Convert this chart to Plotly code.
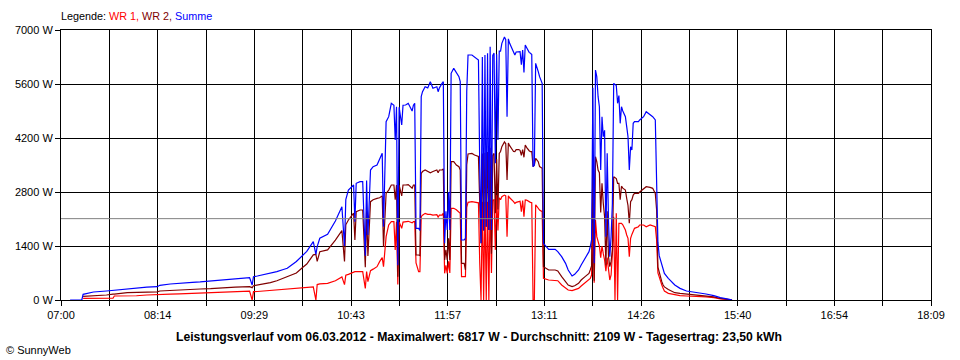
import plotly.graph_objects as go

# ---- data (times of day, watts) ----
times = [
    "07:07","07:16","07:17","07:25","07:35","07:40","07:41","07:51","07:58","08:06",
    "08:14","08:16","08:24","08:31","08:41","08:47","08:55","09:05","09:14","09:25",
    "09:27","09:28","09:31","09:35","09:41","09:46","09:51","09:54","10:01","10:06",
    "10:09","10:14","10:16","10:17","10:19","10:25","10:31","10:36","10:38","10:39",
    "10:41","10:45","10:46","10:47","10:50","10:52","10:54","10:55","10:56","10:58",
    "11:00","11:03","11:05","11:07","11:08","11:10","11:12","11:14","11:16","11:17",
    "11:18","11:19","11:20","11:22","11:23","11:25","11:27","11:30","11:31","11:32",
    "11:33","11:35","11:36","11:37","11:38","11:40","11:42","11:44","11:46","11:49",
    "11:50","11:51","11:53","11:54","11:55","11:56","11:57","11:58","11:59","12:00",
    "12:02","12:04","12:06","12:07","12:08","12:10","12:11","12:12","12:13","12:16",
    "12:18","12:20","12:21","12:22","12:23","12:24","12:25","12:26","12:27","12:28",
    "12:29","12:30","12:31","12:32","12:33","12:34","12:35","12:36","12:37","12:38",
    "12:39","12:41","12:42","12:43","12:44","12:45","12:47","12:48","12:49","12:50",
    "12:52","12:53","12:54","12:55","12:56","12:57","12:58","12:59","13:00","13:01",
    "13:02","13:03","13:04","13:05","13:06","13:07","13:08","13:10","13:11","13:15",
    "13:20","13:22","13:25","13:28","13:30","13:33","13:35","13:38","13:40","13:43",
    "13:46","13:47","13:48","13:49","13:50","13:51","13:52","13:53","13:54","13:55",
    "13:56","13:57","13:58","13:59","14:00","14:01","14:02","14:03","14:04","14:05",
    "14:06","14:07","14:08","14:09","14:10","14:11","14:12","14:14","14:15","14:16",
    "14:17","14:18","14:19","14:20","14:21","14:24","14:25","14:28","14:30","14:33",
    "14:35","14:37","14:38","14:39","14:40","14:41","14:42","14:43","14:44","14:47",
    "14:50","14:52","14:56","15:01","15:06","15:11","15:16","15:22","15:27","15:34",
    "15:36",
]

wr1 = [
    None,None,40,45,45,45,104,104,110,130,
    147,147,150,160,175,185,190,200,225,230,
    0,216,220,230,250,275,285,290,300,320,
    330,340,0,400,420,432,500,600,400,640,
    665,735,735,735,735,735,300,735,475,760,
    800,864,994,1100,864,1642,1945,2030,2030,1300,
    2030,400,2020,1858,2020,2030,2040,2000,2030,2030,
    960,735,735,2160,2200,2247,2220,2220,2200,2210,
    2150,2200,2200,2250,691,900,691,1000,700,2377,
    2377,2340,2290,2250,605,605,605,2400,2532,2550,
    2530,2530,2520,960,0,2550,0,2550,0,2550,
    0,2600,700,2590,2600,1300,2722,1800,2650,2600,
    2679,2720,2700,1642,2700,2650,2593,2550,2506,2530,
    2550,2560,2290,2580,2160,2593,2590,2560,2550,2530,
    2520,0,0,2470,2420,2380,2330,2290,562,518,
    510,500,389,320,259,242,260,302,363,450,
    518,560,648,2000,450,2074,1642,1500,1400,1100,
    1400,1200,1037,750,1100,800,518,648,1200,2160,
    0,2247,0,1988,1988,1988,1950,1815,1685,1600,
    1123,1600,1700,1771,1858,1900,1945,1945,1900,1945,
    1930,1900,1556,700,600,475,389,302,233,173,
    150,130,115,104,100,95,80,60,30,10,
    0,
]

wr2 = [
    None,None,95,104,130,150,150,190,195,207,
    210,233,250,268,280,285,295,320,335,345,
    320,371,390,410,449,500,562,600,700,850,
    933,1170,1184,1000,1250,1300,1550,1800,1000,1950,
    2074,2250,1556,2290,2333,2333,850,2300,1140,2549,
    2600,2636,2650,2700,1382,2765,2850,2981,2981,2600,
    2981,600,2981,2700,2981,2981,2990,2900,2981,2981,
    1167,1167,1150,3284,3330,3370,3340,3300,3330,3370,
    3300,3370,3370,3400,1037,1300,1037,1600,1037,3586,
    3586,3500,3456,3370,950,950,778,3500,3785,3800,
    3760,3740,3720,2500,1470,3800,1800,3820,1900,3840,
    1815,3950,1200,3750,3800,2250,3650,2348,3800,3850,
    3976,4097,4050,3111,4070,4000,3889,3850,3846,3900,
    3900,3880,3750,3900,3700,4018,3957,3900,3870,3846,
    3846,3456,3500,3673,3630,3586,3460,3413,864,778,
    778,753,605,475,389,346,370,432,518,605,
    691,780,881,3500,500,3716,3586,3370,3300,2270,
    3025,2506,2160,900,2300,1123,864,1000,1300,3197,
    3180,3150,3025,3025,2600,2950,2900,2850,2636,2450,
    1988,2550,2600,2722,2765,2765,2800,2895,2938,2920,
    2895,2765,2333,850,700,605,475,389,340,270,
    220,190,170,150,130,110,100,80,40,10,
    0,
]

summe = [
    0,0,148,207,233,250,259,290,320,335,
    345,380,415,440,458,470,492,536,560,579,
    389,605,622,648,690,735,790,821,1000,1167,
    1260,1512,1184,1382,1600,1702,2048,2419,1400,2600,
    2852,2981,2030,3025,3068,3070,1150,3100,1685,3370,
    3456,3500,3673,3803,1900,4623,4753,5099,5050,4148,
    5012,900,5000,4537,5050,5055,5099,4900,5050,5099,
    1858,1858,1800,5271,5400,5530,5500,5660,5488,5530,
    5400,5500,5617,5660,1470,2300,1815,2800,1815,5877,
    6006,5900,5790,5660,1556,1556,1600,5400,6352,6352,
    6300,6260,6222,3456,1470,6300,1800,6350,1900,6395,
    1815,6567,1815,6340,6400,3543,6372,4148,6450,6450,
    6655,6817,6750,4753,6770,6655,6481,6400,6352,6430,
    6450,6440,6100,6480,5900,6611,6547,6460,6420,6395,
    6366,3456,3500,6136,6050,5920,5790,5617,1470,1314,
    1314,1253,1123,950,778,622,665,778,907,1080,
    1253,1382,1556,5500,950,5963,5790,5271,5012,3370,
    4753,4234,4400,1642,3803,2074,1123,1642,2500,5617,
    5590,5560,5100,5300,4580,5012,4900,4753,4494,4234,
    3370,3975,3889,4580,4623,4623,4667,4753,4882,4800,
    4753,4667,3370,1500,1150,1037,907,778,691,562,
    450,389,302,233,207,190,156,112,60,17,
    0,
]

x_tick_labels = ["07:00", "08:14", "09:29", "10:43", "11:57",
                 "13:11", "14:26", "15:40", "16:54", "18:09"]
y_tick_values = [0, 1400, 2800, 4200, 5600, 7000]
average_w = 2109
title_text = ("Leistungsverlauf vom 06.03.2012 - Maximalwert: 6817 W - "
              "Durchschnitt: 2109 W - Tagesertrag: 23,50 kWh")
series = [("WR 1", wr1, "#FF0000"), ("WR 2", wr2, "#800000"), ("Summe", summe, "#0000FF")]

# ---- build ----
def to_min(s):
    h, m = s.split(":")
    return int(h) * 60 + int(m)

t = [to_min(s) for s in times]
x_start = to_min(x_tick_labels[0])
x_end = to_min(x_tick_labels[-1])
n_major = len(x_tick_labels) - 1
major_vals = [x_start + i * (x_end - x_start) / n_major for i in range(n_major + 1)]
minor_vals = [x_start + (2 * i + 1) * (x_end - x_start) / (2 * n_major) for i in range(n_major)]

FONT = "Liberation Sans, Arial, sans-serif"

fig = go.Figure()
for name, vals, color in series:
    fig.add_trace(go.Scatter(x=t, y=vals, mode="lines", name=name,
                             line=dict(color=color, width=1.2),
                             hoverinfo="skip", connectgaps=False))

fig.add_shape(type="line", xref="paper", yref="y", x0=0, x1=1,
              y0=average_w, y1=average_w, line=dict(color="#808080", width=1),
              layer="above")

axis_common = dict(showline=True, linecolor="black", linewidth=1, mirror=True,
                   showgrid=True, gridcolor="black", gridwidth=1,
                   ticks="outside", ticklen=5, tickcolor="black", tickwidth=1,
                   zeroline=False, tickfont=dict(family=FONT, size=11, color="black"),
                   fixedrange=True)

fig.update_xaxes(range=[x_start, x_end], tickmode="array", tickvals=major_vals,
                 ticktext=x_tick_labels,
                 minor=dict(tickmode="array", tickvals=minor_vals, showgrid=True,
                            gridcolor="black", gridwidth=1, ticks="outside",
                            ticklen=5, tickcolor="black", tickwidth=1),
                 **axis_common)
fig.update_yaxes(range=[0, y_tick_values[-1]], tickmode="array", tickvals=y_tick_values,
                 ticktext=[f"{v} W" for v in y_tick_values], **axis_common)

legend_html = ("Legende: <span style='color:#FF0000'>WR 1,</span> "
               "<span style='color:#800000'>WR 2,</span> "
               "<span style='color:#0000FF'>Summe</span>")
fig.add_annotation(text=legend_html, xref="paper", yref="paper", x=-0.002, y=1.052,
                   xanchor="left", yanchor="middle", showarrow=False,
                   font=dict(family=FONT, size=10.8, color="black"))
fig.add_annotation(text="<b>" + title_text + "</b>", xref="paper", yref="paper",
                   x=0.4805, y=-0.137, xanchor="center", yanchor="middle",
                   showarrow=False, font=dict(family=FONT, size=12.2, color="black"))
fig.add_annotation(text="© SunnyWeb", xref="paper", yref="paper", x=-0.066, y=-0.185,
                   xanchor="left", yanchor="middle", showarrow=False,
                   font=dict(family=FONT, size=11, color="black"))

fig.update_layout(width=960, height=360, margin=dict(l=61, r=29, t=30, b=60),
                  paper_bgcolor="white", plot_bgcolor="white", showlegend=False)

fig.write_html("out.html", config={"displayModeBar": False},
               post_script="document.body.style.margin='0px';document.body.style.overflow='hidden';")
